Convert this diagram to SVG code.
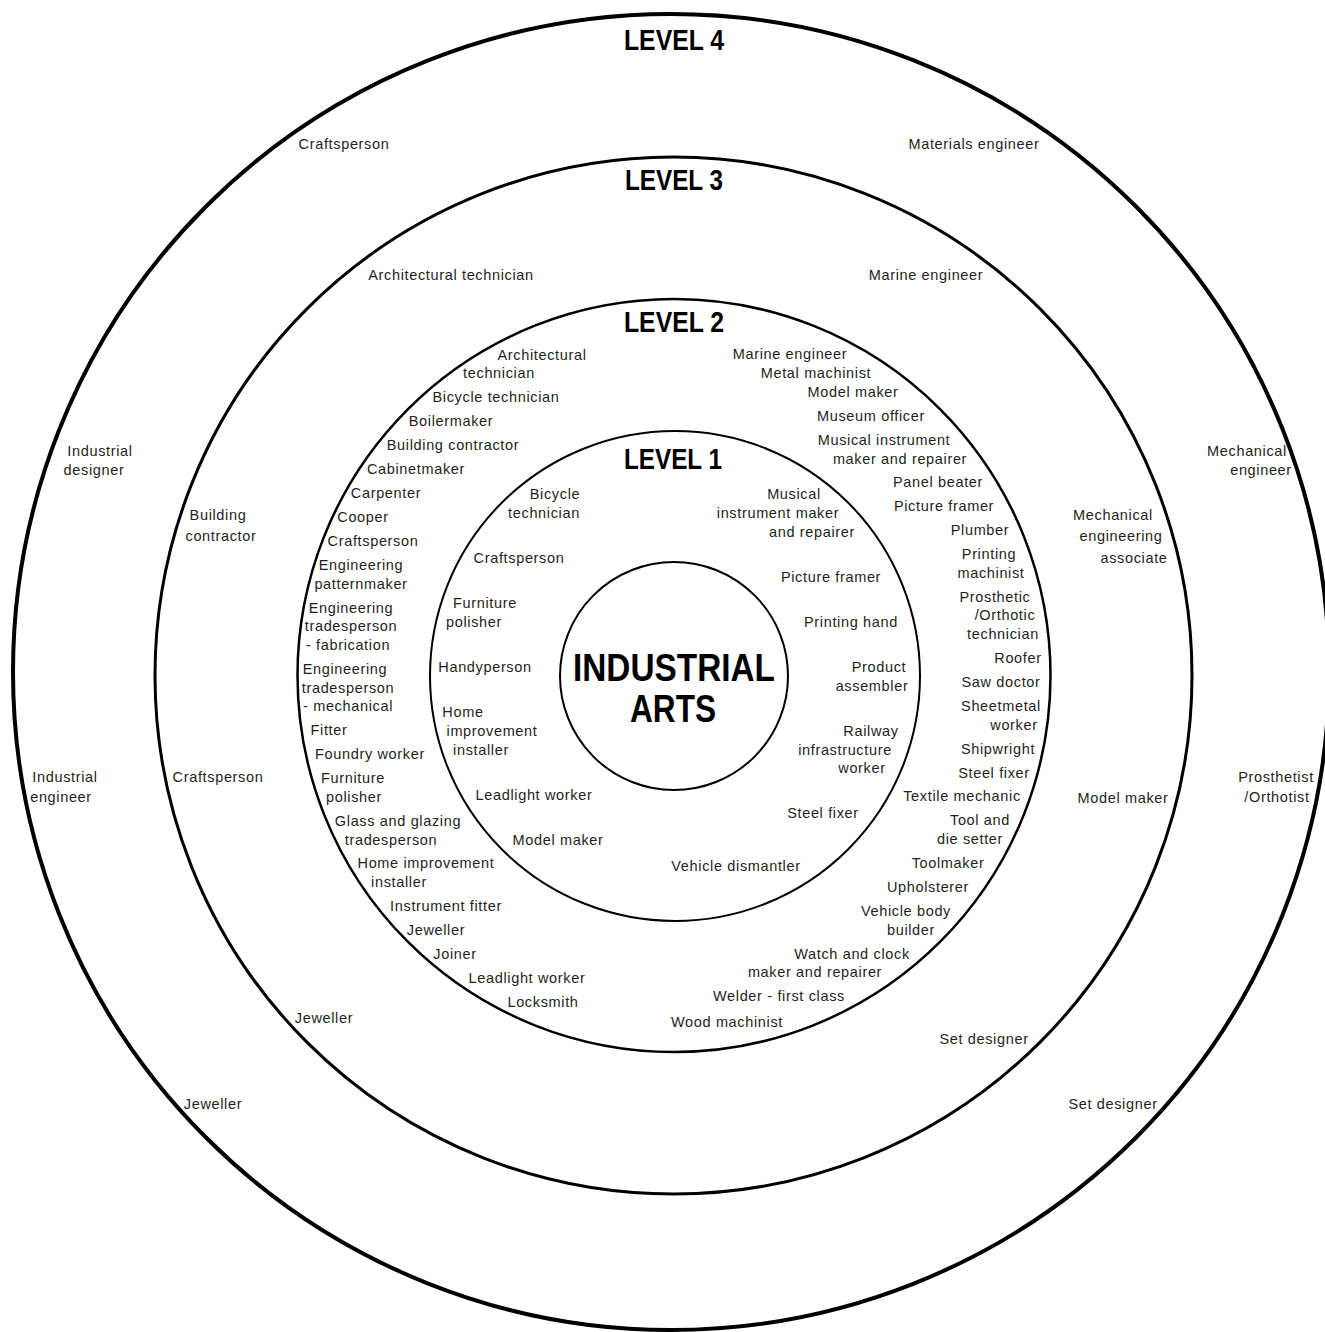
<svg xmlns="http://www.w3.org/2000/svg" width="1325" height="1332" viewBox="0 0 1325 1332">
<style>
.ring{fill:none;stroke:#000}
.lbl{font-family:"Liberation Sans",Arial,sans-serif;font-size:14.5px;letter-spacing:0.65px;fill:#231f20;text-anchor:middle}
.lvl{font-family:"Liberation Sans",Arial,sans-serif;font-size:30px;font-weight:bold;fill:#000;text-anchor:middle}
.core{font-family:"Liberation Sans",Arial,sans-serif;font-size:38px;font-weight:bold;fill:#000;text-anchor:middle}
</style>
<rect width="1325" height="1332" fill="#fff"/>
<g id="level4">
<circle class="ring" cx="671" cy="672" r="658" stroke-width="4"/>
<text class="lvl" x="674" y="50" textLength="100" lengthAdjust="spacingAndGlyphs">LEVEL 4</text>
<g class="lbl">
<text x="344" y="149">Craftsperson</text>
<text x="974" y="149">Materials engineer</text>
<text x="100" y="456">Industrial</text>
<text x="94" y="475">designer</text>
<text x="1247" y="456">Mechanical</text>
<text x="1261" y="475">engineer</text>
<text x="65" y="782">Industrial</text>
<text x="61" y="802">engineer</text>
<text x="1276" y="782">Prosthetist</text>
<text x="1277" y="802">/Orthotist</text>
<text x="213" y="1109">Jeweller</text>
<text x="1113" y="1109">Set designer</text>
</g>
</g>
<g id="level3">
<circle class="ring" cx="673.5" cy="675.5" r="518.5" stroke-width="3"/>
<text class="lvl" x="674" y="190" textLength="98" lengthAdjust="spacingAndGlyphs">LEVEL 3</text>
<g class="lbl">
<text x="451" y="280">Architectural technician</text>
<text x="926" y="280">Marine engineer</text>
<text x="218" y="520">Building</text>
<text x="221" y="541">contractor</text>
<text x="1113" y="520">Mechanical</text>
<text x="1121" y="541">engineering</text>
<text x="1134" y="563">associate</text>
<text x="218" y="782">Craftsperson</text>
<text x="1123" y="803">Model maker</text>
<text x="324" y="1023">Jeweller</text>
<text x="984" y="1044">Set designer</text>
</g>
</g>
<g id="level2">
<circle class="ring" cx="674" cy="675.5" r="376.5" stroke-width="2.5"/>
<text class="lvl" x="674" y="332" textLength="100" lengthAdjust="spacingAndGlyphs">LEVEL 2</text>
<g class="lbl">
<text x="542" y="360">Architectural</text>
<text x="499" y="378">technician</text>
<text x="496" y="402">Bicycle technician</text>
<text x="451" y="426">Boilermaker</text>
<text x="453" y="450">Building contractor</text>
<text x="416" y="474">Cabinetmaker</text>
<text x="386" y="498">Carpenter</text>
<text x="363" y="522">Cooper</text>
<text x="373" y="546">Craftsperson</text>
<text x="361" y="570">Engineering</text>
<text x="361" y="589">patternmaker</text>
<text x="351" y="613">Engineering</text>
<text x="351" y="631">tradesperson</text>
<text x="348" y="650">- fabrication</text>
<text x="345" y="674">Engineering</text>
<text x="348" y="693">tradesperson</text>
<text x="348" y="711">- mechanical</text>
<text x="329" y="735">Fitter</text>
<text x="370" y="759">Foundry worker</text>
<text x="353" y="783">Furniture</text>
<text x="354" y="802">polisher</text>
<text x="398" y="826">Glass and glazing</text>
<text x="391" y="845">tradesperson</text>
<text x="426" y="868">Home improvement</text>
<text x="399" y="887">installer</text>
<text x="446" y="911">Instrument fitter</text>
<text x="436" y="935">Jeweller</text>
<text x="455" y="959">Joiner</text>
<text x="527" y="983">Leadlight worker</text>
<text x="543" y="1007">Locksmith</text>
<text x="790" y="359">Marine engineer</text>
<text x="816" y="378">Metal machinist</text>
<text x="853" y="397">Model maker</text>
<text x="871" y="421">Museum officer</text>
<text x="884" y="445">Musical instrument</text>
<text x="900" y="464">maker and repairer</text>
<text x="938" y="487">Panel beater</text>
<text x="944" y="511">Picture framer</text>
<text x="980" y="535">Plumber</text>
<text x="989" y="559">Printing</text>
<text x="991" y="578">machinist</text>
<text x="995" y="602">Prosthetic</text>
<text x="1005" y="620">/Orthotic</text>
<text x="1003" y="639">technician</text>
<text x="1018" y="663">Roofer</text>
<text x="1001" y="687">Saw doctor</text>
<text x="1001" y="711">Sheetmetal</text>
<text x="1014" y="730">worker</text>
<text x="998" y="754">Shipwright</text>
<text x="994" y="778">Steel fixer</text>
<text x="962" y="801">Textile mechanic</text>
<text x="980" y="825">Tool and</text>
<text x="970" y="844">die setter</text>
<text x="948" y="868">Toolmaker</text>
<text x="928" y="892">Upholsterer</text>
<text x="906" y="916">Vehicle body</text>
<text x="911" y="935">builder</text>
<text x="852" y="959">Watch and clock</text>
<text x="815" y="977">maker and repairer</text>
<text x="779" y="1001">Welder - first class</text>
<text x="727" y="1027">Wood machinist</text>
</g>
</g>
<g id="level1">
<circle class="ring" cx="675" cy="676" r="245" stroke-width="2"/>
<text class="lvl" x="673" y="469" textLength="98" lengthAdjust="spacingAndGlyphs">LEVEL 1</text>
<g class="lbl">
<text x="555" y="499">Bicycle</text>
<text x="544" y="518">technician</text>
<text x="519" y="563">Craftsperson</text>
<text x="485" y="608">Furniture</text>
<text x="474" y="627">polisher</text>
<text x="485" y="672">Handyperson</text>
<text x="463" y="717">Home</text>
<text x="492" y="736">improvement</text>
<text x="481" y="755">installer</text>
<text x="534" y="800">Leadlight worker</text>
<text x="558" y="845">Model maker</text>
<text x="736" y="871">Vehicle dismantler</text>
<text x="823" y="818">Steel fixer</text>
<text x="871" y="736">Railway</text>
<text x="845" y="755">infrastructure</text>
<text x="862" y="773">worker</text>
<text x="879" y="672">Product</text>
<text x="872" y="691">assembler</text>
<text x="851" y="627">Printing hand</text>
<text x="831" y="582">Picture framer</text>
<text x="794" y="499">Musical</text>
<text x="778" y="518">instrument maker</text>
<text x="812" y="537">and repairer</text>
</g>
</g>
<g id="core">
<circle class="ring" cx="674" cy="676" r="114" stroke-width="2"/>
<text class="core" x="674" y="681" textLength="202" lengthAdjust="spacingAndGlyphs">INDUSTRIAL</text>
<text class="core" x="673" y="722" textLength="86" lengthAdjust="spacingAndGlyphs">ARTS</text>
</g>
</svg>
